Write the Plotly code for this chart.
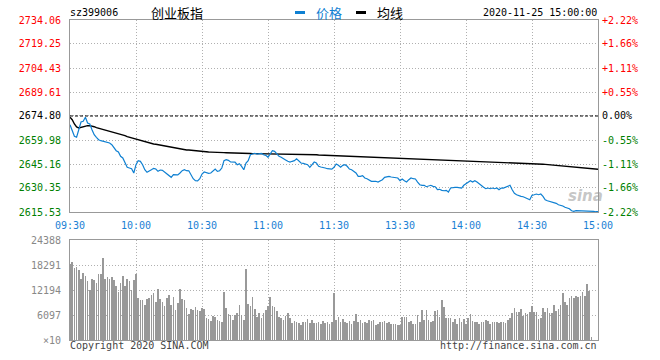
import plotly.graph_objects as go

# ---------------- data ----------------
prev_close = 2674.80
time_ticks = [0, 30, 60, 90, 120, 150, 180, 210, 240]
time_labels = ["09:30", "10:00", "10:30", "11:00", "11:30", "13:30", "14:00", "14:30", "15:00"]

price_labels = ["2615.53", "2630.35", "2645.16", "2659.98", "2674.80",
                "2689.61", "2704.43", "2719.25", "2734.06"]
pct_labels = ["-2.22%", "-1.66%", "-1.11%", "-0.55%", "0.00%",
              "+0.55%", "+1.11%", "+1.66%", "+2.22%"]
vol_ticks = [0, 6097, 12194, 18291, 24388]
vol_labels = ["×10", "6097", "12194", "18291", "24388"]

price = [
    2669.43, 2665.35, 2662.26, 2661.65, 2666.34, 2671.09, 2671.53, 2674.00, 2670.48, 2669.86,
    2666.34, 2663.25, 2661.65, 2660.17, 2659.55, 2659.18, 2658.74, 2658.56, 2658.13, 2657.08,
    2655.04, 2653.37, 2652.57, 2649.91, 2648.86, 2646.21, 2643.12, 2642.69, 2642.26, 2639.60,
    2644.73, 2647.20, 2646.83, 2644.73, 2641.64, 2640.03, 2640.65, 2641.64, 2642.50, 2642.07,
    2640.65, 2641.45, 2641.27, 2640.22, 2638.98, 2637.94, 2636.95, 2638.55, 2638.48, 2638.40,
    2639.60, 2641.02, 2641.64, 2641.02, 2640.96, 2638.55, 2636.08, 2634.85, 2634.74, 2636.08,
    2638.98, 2640.22, 2639.60, 2639.42, 2639.60, 2640.65, 2642.07, 2640.65, 2641.02, 2642.69,
    2647.20, 2647.81, 2647.44, 2646.39, 2646.21, 2646.30, 2644.73, 2645.35, 2643.74, 2641.64,
    2645.78, 2647.20, 2650.90, 2651.52, 2651.77, 2651.33, 2651.40, 2651.77, 2650.90, 2650.53,
    2649.30, 2651.33, 2653.37, 2653.00, 2651.33, 2649.91, 2649.30, 2648.25, 2647.63, 2646.83,
    2646.39, 2646.83, 2647.20, 2648.43, 2646.83, 2645.78, 2645.59, 2645.16, 2644.73, 2643.12,
    2644.73, 2646.39, 2645.78, 2643.74, 2643.31, 2643.12, 2642.69, 2642.26, 2642.07, 2642.00,
    2643.12, 2645.16, 2644.36, 2643.12, 2644.36, 2644.73, 2643.74, 2642.07, 2641.64, 2640.65,
    2639.60, 2637.56, 2637.50, 2637.94, 2636.51, 2636.08, 2635.47, 2634.48, 2634.40, 2634.50,
    2634.04, 2634.85, 2635.47, 2636.95, 2637.13, 2637.56, 2637.13, 2636.95, 2636.51, 2636.50,
    2634.85, 2635.90, 2634.85, 2634.04, 2635.47, 2636.51, 2636.08, 2635.90, 2634.04, 2632.38,
    2632.01, 2632.00, 2631.14, 2631.76, 2632.01, 2631.39, 2631.14, 2629.29, 2629.54, 2628.92,
    2628.67, 2628.92, 2627.87, 2630.34, 2630.77, 2630.75, 2630.70, 2630.34, 2630.30, 2632.01,
    2633.12, 2634.04, 2634.85, 2634.04, 2634.85, 2634.04, 2632.81, 2632.01, 2630.77, 2629.91,
    2630.34, 2629.91, 2630.34, 2629.91, 2630.34, 2629.29, 2630.34, 2630.30, 2630.77, 2631.14,
    2632.01, 2629.29, 2627.07, 2626.20, 2625.59, 2625.21, 2624.97, 2624.16, 2623.73, 2623.12,
    2625.83, 2626.20, 2626.63, 2626.20, 2626.63, 2625.21, 2623.12, 2622.50, 2622.13, 2621.69,
    2621.08, 2620.89, 2620.03, 2619.66, 2619.22, 2618.42, 2617.99, 2617.56, 2616.32, 2615.95,
    2616.32, 2616.32, 2616.30, 2616.30, 2616.32, 2615.95, 2615.95, 2615.95, 2615.95, 2615.70,
    2615.70,
]

avg_price = [
    2674.00, 2672.52, 2669.86, 2668.01, 2667.39, 2667.82, 2668.19, 2668.62, 2668.81, 2668.81,
    2668.62, 2668.19, 2667.58, 2667.20, 2666.77, 2666.34, 2666.15, 2665.72, 2665.35, 2665.11,
    2664.92, 2664.49, 2664.12, 2663.68, 2663.25, 2662.64, 2662.02, 2661.65, 2661.21, 2660.60,
    2660.17, 2659.79, 2659.36, 2659.18, 2658.74, 2658.31, 2658.13, 2657.94, 2657.51, 2657.32,
    2657.08, 2656.71, 2656.46, 2656.27, 2656.09, 2655.66, 2655.47, 2655.04, 2654.85, 2654.61,
    2654.24, 2653.99, 2653.95, 2653.80, 2653.78, 2653.62, 2653.37, 2653.19, 2653.00, 2652.76,
    2652.74, 2652.69, 2652.63, 2652.57, 2652.51, 2652.38, 2652.32, 2652.26, 2652.25, 2652.20,
    2652.19, 2652.14, 2652.13, 2652.08, 2652.07, 2652.01, 2652.00, 2651.95, 2651.83, 2651.77,
    2651.71, 2651.64, 2651.63, 2651.58, 2651.57, 2651.52, 2651.51, 2651.46, 2651.45, 2651.40,
    2651.39, 2651.33, 2651.33, 2651.27, 2651.27, 2651.26, 2651.21, 2651.21, 2651.20, 2651.15,
    2651.15, 2651.14, 2651.09, 2651.08, 2651.08, 2651.03, 2651.02, 2651.02, 2650.96, 2650.96,
    2650.90, 2650.90, 2650.84, 2650.72, 2650.66, 2650.59, 2650.59, 2650.53, 2650.52, 2650.47,
    2650.46, 2650.45, 2650.41, 2650.40, 2650.35, 2650.34, 2650.29, 2650.28, 2650.22, 2650.16,
    2650.10, 2650.04, 2649.98, 2649.91, 2649.85, 2649.79, 2649.73, 2649.67, 2649.61, 2649.54,
    2649.48, 2649.42, 2649.36, 2649.30, 2649.24, 2649.23, 2649.17, 2649.16, 2649.11, 2649.05,
    2648.99, 2648.93, 2648.86, 2648.85, 2648.80, 2648.74, 2648.73, 2648.68, 2648.62, 2648.56,
    2648.49, 2648.43, 2648.37, 2648.31, 2648.25, 2648.19, 2648.12, 2648.06, 2648.00, 2647.94,
    2647.88, 2647.82, 2647.75, 2647.69, 2647.63, 2647.57, 2647.51, 2647.44, 2647.38, 2647.32,
    2647.31, 2647.26, 2647.20, 2647.14, 2647.07, 2647.01, 2646.95, 2646.89, 2646.83, 2646.82,
    2646.77, 2646.70, 2646.69, 2646.64, 2646.58, 2646.52, 2646.46, 2646.39, 2646.33, 2646.27,
    2646.21, 2646.15, 2646.09, 2646.02, 2645.96, 2645.90, 2645.84, 2645.78, 2645.72, 2645.65,
    2645.59, 2645.47, 2645.35, 2645.22, 2645.16, 2645.04, 2644.91, 2644.79, 2644.67, 2644.54,
    2644.42, 2644.30, 2644.17, 2644.05, 2643.92, 2643.80, 2643.68, 2643.55, 2643.43, 2643.31,
    2643.18, 2643.06, 2642.94, 2642.81, 2642.69, 2642.57, 2642.44, 2642.32, 2642.20, 2642.07,
    2641.89,
]

volume = [
    18500, 19104, 17640, 17884, 17152, 14958, 16421, 15608, 14389, 12194,
    14958, 14633, 13820, 16177, 16177, 20079, 14958, 15364, 14958, 15364,
    14633, 13170, 11788, 13983, 15608, 13170, 14796, 14389, 12194, 14633,
    16177, 10324, 9755, 9755, 8617, 10080, 10324, 10893, 11544, 9267,
    12519, 10080, 9349, 8292, 10243, 10975, 8455, 10487, 7316, 9105,
    12519, 10080, 9837, 7886, 6422, 7642, 7316, 8130, 7316, 7154,
    7804, 7642, 5447, 5203, 4634, 5853, 5691, 4878, 4634, 4390,
    11706, 7886, 6422, 6016, 4878, 6016, 6504, 8536, 6016, 4878,
    17397, 8698, 8292, 10487, 7479, 5609, 6504, 5447, 6666, 7316,
    8292, 10487, 8292, 8048, 7073, 5691, 5447, 4878, 5853, 6504,
    5447, 4065, 4634, 4390, 4065, 3577, 4390, 4390, 5040, 4065,
    4878, 4227, 4065, 4390, 3821, 4634, 4065, 4390, 3821, 4471,
    11381, 4878, 5691, 4471, 5121, 4309, 4065, 4634, 3902, 4634,
    6260, 4471, 4878, 4227, 4471, 4065, 4878, 4715, 4878, 3658,
    3902, 4471, 4309, 4634, 4227, 4471, 3821, 3983, 3983, 3658,
    3658, 5609, 5691, 5609, 4471, 4634, 3902, 3902, 6097, 4471,
    7316, 4878, 7316, 4796, 4309, 4634, 7073, 7316, 5528, 9674,
    8048, 5447, 5284, 5284, 4471, 5121, 3902, 5284, 4309, 5121,
    3902, 5447, 6260, 4715, 4471, 4471, 3902, 4309, 4309, 4878,
    4715, 3821, 4471, 4309, 4309, 4065, 4309, 4309, 4065, 4878,
    5284, 6504, 7886, 6747, 6747, 7560, 5935, 6504, 6260, 6747,
    8292, 6747, 6747, 5121, 5284, 7886, 6911, 7723, 6504, 6504,
    8536, 7073, 7560, 8536, 11381, 9186, 8536, 10161, 10812, 10324,
    10812, 10568, 10812, 11788, 10812, 13576, 11950, 732, 0, 0,
    0,
]

# ---------------- figure ----------------
x = list(range(len(price)))
price_vals = [float(v) for v in price_labels]

RED, GREEN, BLACK = "#ff0000", "#008000", "#000000"


def colored(labels):
    out = []
    for i, t in enumerate(labels):
        c = GREEN if i < 4 else (BLACK if i == 4 else RED)
        out.append('<span style="color:%s">%s</span>' % (c, t))
    return out


GRID = dict(showgrid=True, gridcolor="#b0b0b0", griddash="1px,2px", gridwidth=1)
MONO = "DejaVu Sans Mono"
CJK = "Noto Sans CJK SC"

fig = go.Figure()
fig.add_trace(go.Bar(x=x, y=volume, xaxis="x2", yaxis="y3", width=0.36,
                     marker=dict(color="#999999", line=dict(width=0)), hoverinfo="skip"))
fig.add_trace(go.Scatter(x=[0, 240], y=[prev_close, prev_close], xaxis="x", yaxis="y2",
                         mode="lines", line=dict(color="#000000", width=1, dash="3px,2px"),
                         hoverinfo="skip"))
fig.add_trace(go.Scatter(x=x, y=avg_price, xaxis="x", yaxis="y", mode="lines",
                         line=dict(color="#000000", width=1.4), name="均线"))
fig.add_trace(go.Scatter(x=x, y=price, xaxis="x", yaxis="y", mode="lines",
                         line=dict(color="#0f80d2", width=1.2), name="价格"))

yr = [price_vals[0], price_vals[-1]]
fig.update_layout(
    width=660, height=360,
    margin=dict(l=70, r=62, t=20, b=20, autoexpand=False),
    paper_bgcolor="white", plot_bgcolor="white",
    showlegend=False,
    font=dict(family=MONO, size=10, color="#000"),
    xaxis=dict(domain=[0, 1], anchor="y", range=[0, 240], tickvals=time_ticks,
               ticktext=time_labels, tickfont=dict(color="#1a7fd4", size=10, family=MONO),
               showline=True, linecolor="#999999", linewidth=1, mirror=True,
               zeroline=False, ticks="", ticklabelstandoff=4, automargin=False, **GRID),
    yaxis=dict(domain=[0.4, 1], anchor="x", range=yr, tickvals=price_vals,
               ticktext=colored(price_labels), showline=True, linecolor="#999999",
               linewidth=1, mirror=True, zeroline=False, ticks="",
               ticklabelstandoff=6, automargin=False, **GRID),
    yaxis2=dict(overlaying="y", anchor="x", side="right", range=yr, tickvals=price_vals,
                ticktext=colored(pct_labels), showgrid=False, zeroline=False,
                showline=False, ticks="", ticklabelstandoff=3, automargin=False),
    xaxis2=dict(domain=[0, 1], anchor="y3", range=[0, 240], tickvals=time_ticks,
                showticklabels=False, showline=True, linecolor="#999999", linewidth=1,
                mirror=True, zeroline=False, ticks="", automargin=False, **GRID),
    yaxis3=dict(domain=[0, 0.3125], anchor="x2", range=[0, vol_ticks[-1]],
                tickvals=vol_ticks, ticktext=vol_labels,
                tickfont=dict(color="#888888", size=10, family=MONO),
                showline=True, linecolor="#999999", linewidth=1, mirror=True,
                zeroline=False, ticks="", ticklabelstandoff=6, automargin=False, **GRID),
    bargap=0,
)


# frame geometry helpers (plot area: 70..598 x 20..340 px)
def px(xp):
    return (xp - 70) / 528.0


def py(yp):
    return (340 - yp) / 320.0


def text(xp, yp, s, anchor="left", size=10, color="#000", family=MONO):
    fig.add_annotation(x=px(xp), y=py(yp), xref="paper", yref="paper", text=s,
                       showarrow=False, xanchor=anchor, yanchor="middle",
                       font=dict(size=size, color=color, family=family), borderpad=0)


text(69, 13, "sz399006")
text(150, 12.5, "创业板指", size=13, family=CJK)
text(315, 12.5, "价格", size=13, color="#0f80d2", family=CJK)
text(376, 12.5, "均线", size=13, family=CJK)
text(598, 13, "2020-11-25 15:00:00", anchor="right")
text(69, 345.5, "Copyright 2020 SINA.COM", color="#444444")
text(598, 345.5, "http://finance.sina.com.cn", anchor="right", color="#444444")
text(585, 196, "<b><i>sina</i></b>", anchor="center", size=15,
     color="rgba(150,150,150,0.55)", family="DejaVu Sans")

fig.add_shape(type="rect", xref="paper", yref="paper", x0=px(295), x1=px(305),
              y0=py(14), y1=py(11), fillcolor="#0f80d2", line=dict(width=0))
fig.add_shape(type="rect", xref="paper", yref="paper", x0=px(356), x1=px(366),
              y0=py(14), y1=py(11), fillcolor="#000000", line=dict(width=0))

fig.write_html("out.html", config={"displayModeBar": False},
               post_script="document.body.style.margin='0px';")
